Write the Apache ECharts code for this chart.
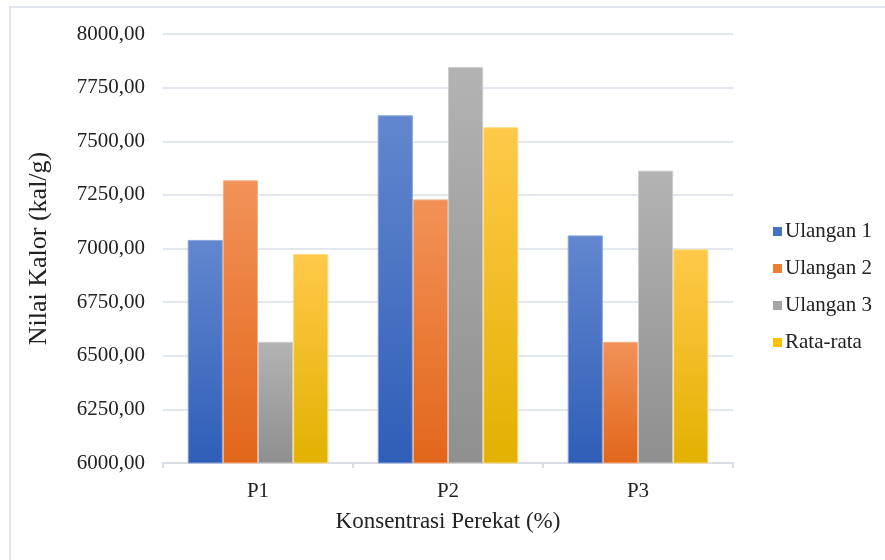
<!DOCTYPE html>
<html>
<head>
<meta charset="utf-8">
<script src="https://cdn.jsdelivr.net/npm/echarts@6/dist/echarts.min.js"></script>
<style>html,body{margin:0;padding:0;background:#fff}#c{width:885px;height:560px}</style>
</head>
<body>
<div id="c"></div>
<script>
const categories = ['P1', 'P2', 'P3'];
const ulangan1 = [7040, 7621, 7061];
const ulangan2 = [7318, 7229, 6565];
const ulangan3 = [6565, 7846, 7363];
const rataRata = [6974, 7565, 6996];
const seriesNames = ['Ulangan 1', 'Ulangan 2', 'Ulangan 3', 'Rata-rata'];
const yTicks = { min: 6000, max: 8000, interval: 250 };

const solid = ['#4472c4', '#ed7d31', '#a5a5a5', '#ffc000'];
const grads = [
  ['#6287cf', '#2f5eb8', '#8aa6dc'],
  ['#f29258', '#e2661a', '#f5b08a'],
  ['#b3b3b3', '#8f8f8f', '#cccccc'],
  ['#ffc94a', '#e2b100', '#ffdb80']
];
const font = '"Liberation Serif", "Times New Roman", serif';
const chart = echarts.init(document.getElementById('c'));
const datas = [ulangan1, ulangan2, ulangan3, rataRata];
chart.setOption({
  animation: false,
  graphic: [{
    type: 'rect', shape: { x: 10, y: 7, width: 900, height: 600 },
    style: { fill: 'none', stroke: '#dfe4ea', lineWidth: 2 }, silent: true
  }],
  grid: { left: 163, right: 152, top: 34, bottom: 97 },
  legend: {
    orient: 'vertical', left: 768, top: 216, itemGap: 16,
    itemWidth: 9, itemHeight: 9, icon: 'rect',
    textStyle: { fontFamily: font, fontSize: 21, color: '#222', padding: [0, 0, 0, -2] },
    data: seriesNames.map((n, i) => ({ name: n, itemStyle: { color: solid[i], borderWidth: 0 } }))
  },
  xAxis: {
    type: 'category', data: categories,
    name: 'Konsentrasi Perekat (%)', nameLocation: 'middle', nameGap: 47,
    nameTextStyle: { fontFamily: font, fontSize: 23, color: '#222' },
    axisLine: { lineStyle: { color: '#d9dde3', width: 2 } },
    axisTick: { show: true, length: 5, lineStyle: { color: '#d9dde3', width: 2 } },
    axisLabel: { fontFamily: font, fontSize: 21, color: '#222', margin: 18 }
  },
  yAxis: {
    type: 'value', min: yTicks.min, max: yTicks.max, interval: yTicks.interval,
    name: 'Nilai Kalor (kal/g)', nameLocation: 'middle', nameGap: 111,
    nameTextStyle: { fontFamily: font, fontSize: 26, color: '#222' },
    axisLine: { show: false }, axisTick: { show: false },
    splitLine: { lineStyle: { color: '#e3e7ee', width: 2 } },
    axisLabel: {
      fontFamily: font, fontSize: 21, color: '#222', margin: 18,
      formatter: v => v.toFixed(2).replace('.', ',')
    }
  },
  series: datas.map((d, i) => ({
    name: seriesNames[i], type: 'bar', data: d,
    barGap: '0%', barCategoryGap: '26%',
    itemStyle: {
      color: new echarts.graphic.LinearGradient(0, 0, 0, 1, [
        { offset: 0, color: grads[i][0] }, { offset: 1, color: grads[i][1] }
      ]),
      borderColor: grads[i][2], borderWidth: 1
    }
  }))
});
</script>
</body>
</html>
